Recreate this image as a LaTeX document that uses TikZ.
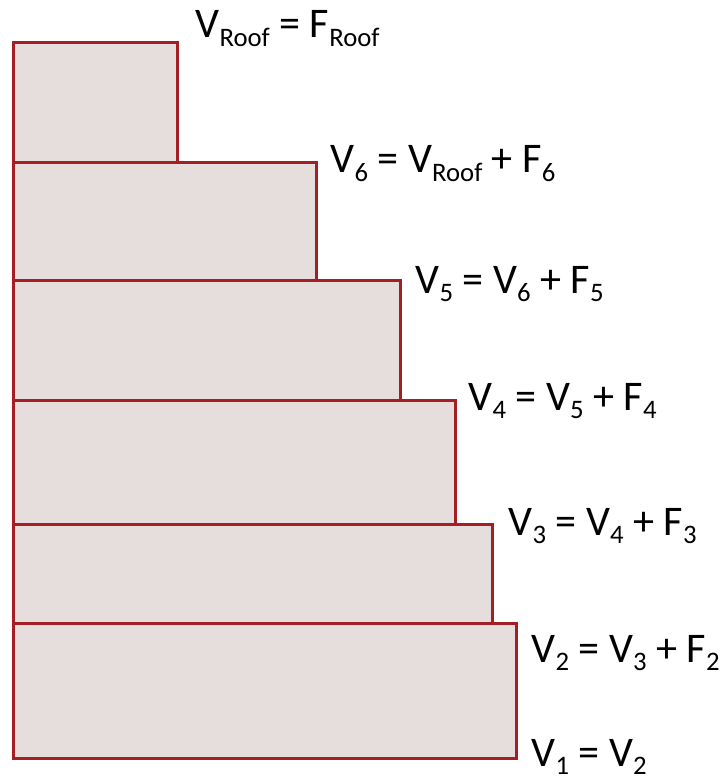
\documentclass[tikz,border=0pt]{standalone}
\usepackage{fontspec}
\setmainfont{Carlito}
\usepackage{tikz}
\usetikzlibrary{positioning,calc}

\definecolor{storeyfill}{HTML}{E6DDDD}
\definecolor{storeyline}{HTML}{A41E24}
\newcommand{\lo}[1]{\raisebox{-0.2em}{\fontsize{19}{22}\selectfont #1}}

\begin{document}
\begin{tikzpicture}[%
    x=0.025cm, y=-0.025cm,
    storey/.style={draw=storeyline,fill=storeyfill,line width=2.4pt,rectangle,
        inner sep=0pt,anchor=north west},
    shear/.style={anchor=base west,inner sep=0pt,font=\fontsize{30}{36}\selectfont}
]
\useasboundingbox (0,0) rectangle (720,780);

% ---------------- Storeys (top down) ----------------
\foreach \n/\r/\t/\b in {sR/176/41/161, s6/315/161/279, s5/399/279/399,
                          s4/454/399/523, s3/491/523/622, s2/515/622/757} {
    \node[storey,minimum width={(\r-12)*0.025cm},minimum height={(\b-\t)*0.025cm}]
        (\n) at (12,\t) {};
}

% ---------------- Storey shears ----------------
\node[shear] (vR) at ($(sR.north east)+(16,-3)$) {V\lo{Roof} = F\lo{Roof}};
\node[shear] (v6) at ($(s6.north east)+(12,12)$) {V\lo{6} = V\lo{Roof} + F\lo{6}};
\node[shear] (v5) at ($(s5.north east)+(13,14)$) {V\lo{5} = V\lo{6} + F\lo{5}};
\node[shear] (v4) at ($(s4.north east)+(11,11)$) {V\lo{4} = V\lo{5} + F\lo{4}};
\node[shear] (v3) at ($(s3.north east)+(14,12)$) {V\lo{3} = V\lo{4} + F\lo{3}};
\node[shear] (v2) at ($(s2.north east)+(13,40)$) {V\lo{2} = V\lo{3} + F\lo{2}};
\node[shear] (v1) at ($(s2.south east)+(13,6)$) {V\lo{1} = V\lo{2}};

\end{tikzpicture}
\end{document}
